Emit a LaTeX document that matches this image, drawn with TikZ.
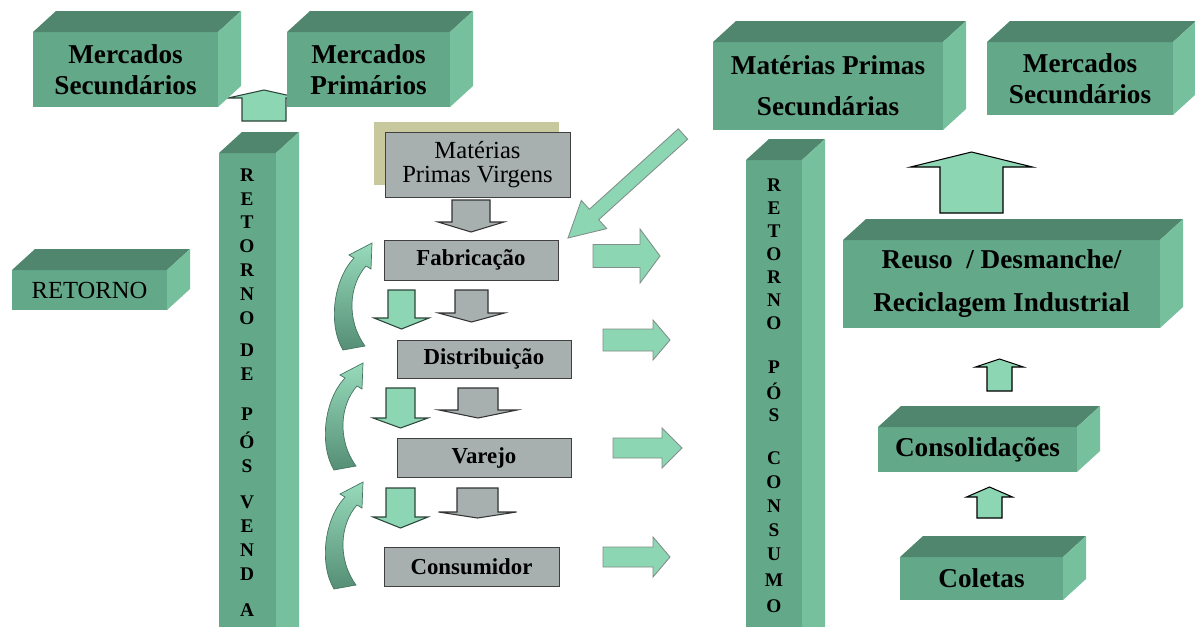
\documentclass[tikz,border=0pt]{standalone}
\usepackage{fontspec}
\setmainfont{Liberation Serif}
\usetikzlibrary{positioning}
\definecolor{boxfront}{RGB}{100,168,138}
\definecolor{boxtop}{RGB}{80,134,110}
\definecolor{boxside}{RGB}{118,192,158}
\definecolor{arrowfill}{RGB}{140,214,180}
\definecolor{arrowline}{RGB}{45,70,58}
\definecolor{stagegray}{RGB}{168,175,175}
\definecolor{khaki}{RGB}{200,200,158}
\def\dpx{23}\def\dpy{21}
% 3D box: name, x1, y1, x2, y2, font, text
\newcommand{\cuboid}[7]{%
  \node[front,font=#6,minimum width={(#4-#2)*0.02cm},minimum height={(#5-#3)*0.02cm}] (#1) at ({(#2+#4)/2},{(#3+#5)/2}) {#7};
  \fill[boxtop] (#1.north west) -- ++(\dpx,-\dpy) -- ([shift={(\dpx,-\dpy)}]#1.north east) -- (#1.north east) -- cycle;
  \fill[boxside] (#1.north east) -- ++(\dpx,-\dpy) -- ([shift={(\dpx,-\dpy)}]#1.south east) -- (#1.south east) -- cycle;
}
% block arrows: vertical (cx, tail, base, tip, shaft, head) and horizontal (cy, ...)
\newcommand{\varr}[6]{(#1-#5,#2) -- (#1+#5,#2) -- (#1+#5,#3) -- (#1+#6,#3) -- (#1,#4) -- (#1-#6,#3) -- (#1-#5,#3) -- cycle}
\newcommand{\harr}[6]{(#2,#1-#5) -- (#3,#1-#5) -- (#3,#1-#6) -- (#4,#1) -- (#3,#1+#6) -- (#3,#1+#5) -- (#2,#1+#5) -- cycle}
\newcommand{\boxfont}{\fontsize{15.5}{17.5}\selectfont\bfseries}
\begin{document}
\begin{tikzpicture}[
  x=0.02cm, y=-0.02cm,
  front/.style={rectangle,fill=boxfront,inner sep=0pt,outer sep=0pt,align=center},
  stage/.style={rectangle,draw=black!75,fill=stagegray,inner sep=0pt,outer sep=0pt,align=center,font=\fontsize{13}{15}\selectfont\bfseries},
  letter/.style={font=\fontsize{11}{12}\selectfont\bfseries,inner sep=0pt},
  greenarrow/.style={fill=arrowfill,draw=arrowline,line width=0.6pt},
  grayarrow/.style={fill=stagegray,draw=black!80,line width=0.6pt},
  sidearrow/.style={fill=arrowfill,draw=arrowline!60,line width=0.5pt},
  curvarrow/.style={top color=arrowfill!90!white,bottom color=boxfront!85!black,draw=boxfront!70!black,line width=0.4pt}
]
\useasboundingbox (0,0) rectangle (1195,626);
\clip (0,0) rectangle (1195,626);
\fill[white] (0,0) rectangle (1195,626);

% up arrow between the markets (behind the boxes)
\draw[greenarrow] \varr{264}{121}{98}{90}{22}{36};

% markets, top left
\cuboid{mercsecl}{33}{32}{218}{107}{\boxfont}{Mercados\\Secundários}
\cuboid{mercprim}{287}{32}{450}{107}{\boxfont}{Mercados\\Primários}
\cuboid{retorno}{12}{270}{167}{310}{\fontsize{14}{16}\selectfont}{RETORNO}

% pillars
\cuboid{posvenda}{219}{153}{276}{680}{}{}
\foreach \ch/\yy [count=\i] in {R/175,E/199,T/222,O/246,R/270,N/294,O/318,D/350,E/374,P/414,Ó/440,S/466,V/502,E/526,N/550,D/574,A/610}
  \node[letter] (venda\i) at (247,\yy) {\ch};
\cuboid{poscons}{746}{160}{802}{680}{}{}
\foreach \ch/\yy [count=\i] in {R/185,E/208,T/231,O/254,R/277,N/300,O/323,P/367,Ó/391,S/415,C/458,O/482,N/506,S/530,U/554,M/580,O/606}
  \node[letter] (consumo\i) at (774,\yy) {\ch};

% forward chain
\node[fill=khaki,minimum width=185*0.02cm,minimum height=63*0.02cm,inner sep=0pt] (virgensbg) at (466.5,153.5) {};
\node[stage,minimum width=185*0.02cm,minimum height=65*0.02cm,font=\fontsize{14}{13.6}\selectfont] (virgens) at (477.5,164.5) {Matérias\\Primas Virgens};
\node[stage,minimum width=174*0.02cm,minimum height=40*0.02cm] (fabric) at (471,260) {Fabricação};
\node[stage,minimum width=174*0.02cm,minimum height=38*0.02cm] (distrib) at (484,359) {Distribuição};
\node[stage,minimum width=174*0.02cm,minimum height=39*0.02cm] (varejo) at (484,457.5) {Varejo};
\node[stage,minimum width=175*0.02cm,minimum height=39*0.02cm] (consum) at (471.5,566.5) {Consumidor};

\draw[grayarrow] \varr{471}{200}{222}{232}{19}{33};
\draw[greenarrow] \varr{401.5}{290}{318}{329}{13.5}{27.5};
\draw[grayarrow] \varr{471.5}{290}{313}{322}{16.5}{33};
\draw[greenarrow] \varr{400.5}{388}{418}{428}{14.5}{27.5};
\draw[grayarrow] \varr{478}{388}{410}{418}{20}{39};
\draw[greenarrow] \varr{400.5}{488}{517}{528}{14.5}{27.5};
\draw[grayarrow] \varr{477.5}{488}{512}{518}{20.5}{39};

% returns on the left side of the chain
\foreach \sx/\sy in {0/0,-9/120,-9/239}
  \path[curvarrow,shift={(\sx,\sy)}] (343,350) .. controls (328,325) and (333,280) .. (354,258)
    -- (349,255) -- (372,243) -- (371,269) -- (366,266)
    .. controls (349,285) and (346,320) .. (365,346) -- cycle;

% arrows towards post-consumption
\draw[sidearrow] \harr{256}{593}{640}{660}{11.5}{27};
\draw[sidearrow] \harr{340}{603}{653}{670}{11}{20};
\draw[sidearrow] \harr{448}{613}{662}{682}{10}{20};
\draw[sidearrow] \harr{557}{603}{653}{670}{10}{20};
\draw[sidearrow] (678.3,128.8) -- (687.7,139.2) -- (598.7,219.7) -- (606.7,228.6) -- (568,238)
  -- (581.3,200.4) -- (589.3,209.3) -- cycle;

% reverse chain, right side
\cuboid{matsec}{713}{42}{943}{130}{\boxfont}{Matérias Primas\\[6pt]Secundárias}
\cuboid{mercsecr}{987}{42}{1173}{115}{\boxfont}{Mercados\\Secundários}
\cuboid{reuso}{843}{240}{1160}{328}{\boxfont}{Reuso\ \ / Desmanche/\\[7pt]Reciclagem Industrial}
\cuboid{consol}{878}{427}{1077}{472}{\boxfont}{Consolidações}
\cuboid{coletas}{900}{557}{1063}{600}{\boxfont}{Coletas}
\draw[greenarrow,draw=black] \varr{971.5}{213}{167}{152}{31.5}{61};
\draw[greenarrow,draw=black] \varr{999.5}{391}{367}{359}{12.5}{24};
\draw[greenarrow,draw=black] \varr{989.5}{518}{497}{487}{12.5}{23};
\end{tikzpicture}
\end{document}
